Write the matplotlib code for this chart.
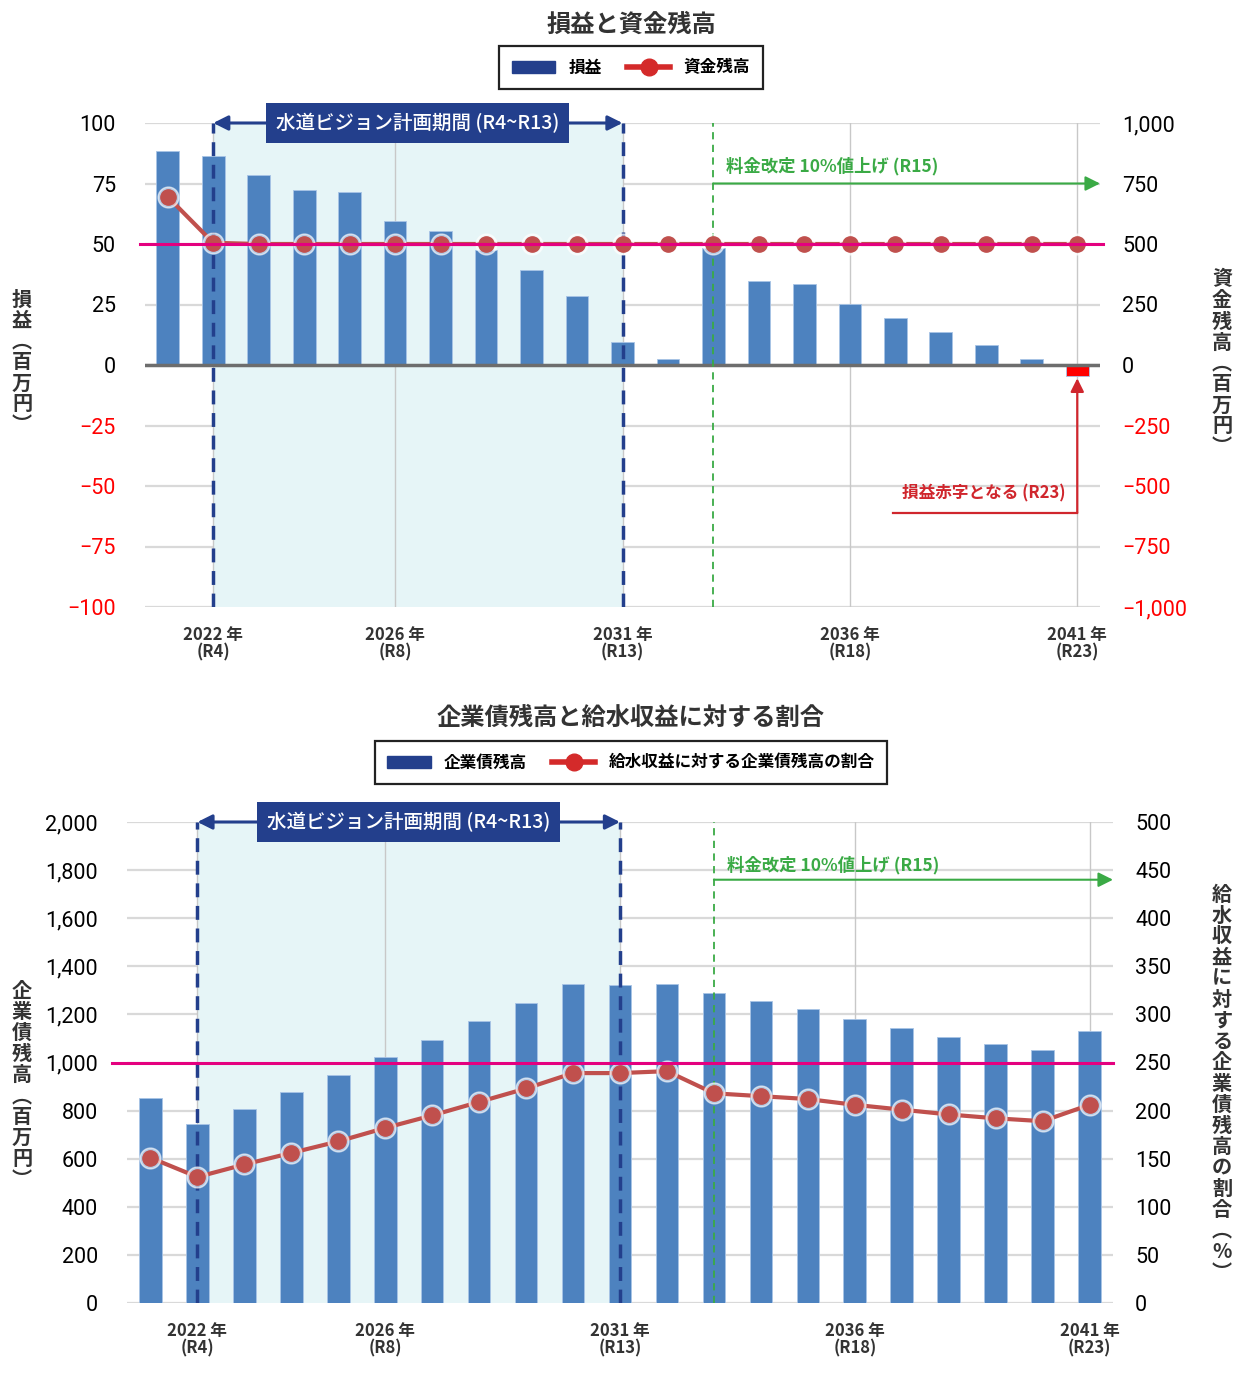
# 損益と資金残高 / 企業債残高と給水収益に対する割合
import numpy as np
import matplotlib.pyplot as plt
from matplotlib.patches import Patch
from matplotlib.lines import Line2D

plt.rcParams['font.family'] = ['Noto Sans CJK JP', 'DejaVu Sans']

#%% data
years = list(range(2021, 2042))
profit = [88.5, 86.5, 78.5, 72.4, 71.5, 59.5, 55.5, 47.4, 39.4, 28.4, 9.4,
          2.5, 48.3, 34.6, 33.5, 25.3, 19.4, 13.5, 8.4, 2.5, -4.5]
fund = [695, 505, 500, 500, 500, 500, 500, 500, 500, 500, 500,
        500, 500, 500, 500, 500, 500, 500, 500, 500, 500]
bond = [852, 744, 807, 877, 948, 1023, 1094, 1172, 1247, 1326, 1322,
        1326, 1289, 1256, 1223, 1181, 1143, 1106, 1077, 1052, 1131]
ratio = [151, 131, 144, 156, 168, 182, 195, 209, 223, 239, 239,
         241, 218, 215, 212, 206, 201, 196, 192, 189, 206]

tick_years = [2022, 2026, 2031, 2036, 2041]
tick_labels = ['2022 年\n(R4)', '2026 年\n(R8)', '2031 年\n(R13)',
               '2036 年\n(R18)', '2041 年\n(R23)']

plan_start, plan_end = 2022, 2031
rate_year = 2033

BAR = '#4d82bf'
LINE = '#c0504d'
NAVY = '#233f8c'
GREEN = '#3aaa45'
PINK = '#e4007f'
REDTXT = '#d0262d'
NUMFONT = ['Roboto', 'Noto Sans CJK JP']

fig = plt.figure(figsize=(12.44, 13.85), dpi=100)


def vlabel(x, y, s):
    s = s.replace('（', '︵').replace('）', '︶')
    fig.text(x, y, '\n'.join(s), ha='center', va='center', fontsize=14.5,
             fontweight='bold', color='#333333', linespacing=1.0)


def setup(ax, ax2, yl, yr, yticks, rticks, rfmt):
    ax.set_xlim(2020.5, 2041.5)
    ax.set_ylim(*yl)
    ax2.set_ylim(*yr)
    ax.set_yticks(yticks)
    ax.set_yticklabels([('−' + str(abs(v))) if v < 0 else str(v) for v in yticks],
                       fontsize=15.5, family=NUMFONT)
    ax2.set_yticks(rticks)
    ax2.set_yticklabels([rfmt(v) for v in rticks], fontsize=15.5, family=NUMFONT)
    for lb, v in zip(ax.get_yticklabels(), yticks):
        lb.set_color('red' if v < 0 else 'black')
    for lb, v in zip(ax2.get_yticklabels(), rticks):
        lb.set_color('red' if v < 0 else 'black')
    ax.set_xticks(tick_years)
    ax.set_xticklabels(tick_labels, fontsize=12, fontweight='bold',
                       color='#333333', linespacing=0.95)
    ax.tick_params(axis='y', length=0, pad=21)
    ax.tick_params(axis='x', length=0, pad=14)
    ax2.tick_params(length=0, pad=16)
    for a in (ax, ax2):
        for sp in a.spines.values():
            sp.set_visible(False)
    ax.set_axisbelow(True)
    for v in yticks:
        ax.axhline(v, color='#d9d9d9', lw=1.6, zorder=0)
    for t in tick_years:
        ax.axvline(t, color='#c8c8c8', lw=1, zorder=0.5)
    ax.axvspan(plan_start, plan_end, color='#e6f5f7', zorder=0.2, lw=0)
    ax2.set_zorder(ax.get_zorder() + 1)
    ax.patch.set_visible(False)


def plan_marks(ax2, ytop, lo, hi):
    for t in (plan_start, plan_end):
        ax2.plot([t, t], [lo, hi], color=NAVY, lw=2.5, ls=(0, (4, 2.5)), zorder=3)
    ax2.annotate('', xy=(plan_end, ytop), xytext=(plan_start, ytop),
                 arrowprops=dict(arrowstyle='<|-|>', color=NAVY, lw=2.2,
                                 mutation_scale=22, shrinkA=0, shrinkB=0),
                 zorder=4)
    ax2.text((plan_start + plan_end) / 2, ytop, '水道ビジョン計画期間 (R4~R13)',
             ha='center', va='center', fontsize=14, fontweight='medium',
             color='white', zorder=5,
             bbox=dict(boxstyle='square,pad=0.5', fc=NAVY, ec='none'))


def rate_marks(ax2, lo, hi, yarrow, ytext):
    ax2.plot([rate_year, rate_year], [lo, hi], color=GREEN, lw=1.3,
             ls=(0, (4, 3)), zorder=3)
    ax2.annotate('', xy=(2041.5, yarrow), xytext=(rate_year, yarrow),
                 arrowprops=dict(arrowstyle='-|>', color=GREEN, lw=1.5,
                                 mutation_scale=22, shrinkA=0, shrinkB=0),
                 annotation_clip=False, zorder=4)
    ax2.text(rate_year + 0.28, ytext, '料金改定 10%値上げ (R15)', ha='left',
             va='center', fontsize=12.5, fontweight='bold', color=GREEN, zorder=4)


def ratio_line(ax2, y):
    ax2.plot(years, y, color=LINE, lw=3, zorder=6)
    ax2.plot(years, y, 'o', ms=15, color='white', alpha=0.6, zorder=6)
    ax2.plot(years, y, 'o', ms=11, color=LINE, zorder=7)


#%% top chart
ax = fig.add_axes([145 / 1244, 1 - 607 / 1385, 955 / 1244, 484 / 1385])
ax2 = ax.twinx()
setup(ax, ax2, (-100, 100), (-1000, 1000), list(range(100, -101, -25)),
      list(range(1000, -1001, -250)),
      lambda v: ('−' + f'{abs(v):,}') if v < 0 else f'{v:,}')
ax.bar(years, profit, width=0.5, color=[BAR if p >= 0 else '#ff0000' for p in profit],
       edgecolor='#a8c4e6', linewidth=0.6, zorder=2)
ax.axhline(0, color='#6d6d6d', lw=2.5, zorder=2.5)
plan_marks(ax2, 1000, -1000, 1000)
rate_marks(ax2, -1000, 1000, 750, 820)
ratio_line(ax2, fund)
ax2.axhline(500, color=PINK, lw=2.2, zorder=8, xmin=-0.005, xmax=1.003, clip_on=False)
# 損益赤字
ax2.plot([2036.95, 2041], [-610, -610], color=REDTXT, lw=1.6, zorder=4)
ax2.annotate('', xy=(2041, -55), xytext=(2041, -611),
             arrowprops=dict(arrowstyle='-|>', color=REDTXT, lw=1.6,
                             mutation_scale=20, shrinkA=0, shrinkB=0), zorder=4)
ax2.text(2038.95, -530, '損益赤字となる (R23)', ha='center', va='center',
         fontsize=12, fontweight='bold', color=REDTXT, zorder=4)

fig.text(631 / 1244, 1 - 25 / 1385, '損益と資金残高', ha='center', va='center',
         fontsize=17.5, fontweight='bold', color='#333333')
h1 = [Patch(color=NAVY), Line2D([], [], color='#d42a2a', lw=4, marker='o', ms=12)]
leg = fig.legend(h1, ['損益', '資金残高'], loc='center', ncol=2,
                 bbox_to_anchor=(631 / 1244, 1 - 67.5 / 1385), fancybox=False,
                 edgecolor='#222222', framealpha=1, handlelength=2.6,
                 prop=dict(size=12, weight='bold'), columnspacing=1.5,
                 borderpad=0.75, handletextpad=0.8)
leg.get_frame().set_linewidth(1.6)
vlabel(22 / 1244, 1 - 362 / 1385, '損益（百万円）')
vlabel(1222 / 1244, 1 - 363 / 1385, '資金残高（百万円）')

#%% bottom chart
bx = fig.add_axes([127 / 1244, 1 - 1303 / 1385, 986 / 1244, 481 / 1385])
bx2 = bx.twinx()
setup(bx, bx2, (0, 2000), (0, 500), list(range(0, 2001, 200)),
      list(range(0, 501, 50)), lambda v: str(v))
bx.set_yticklabels([f'{v:,}' for v in range(0, 2001, 200)], fontsize=15.5, family=NUMFONT)
bx.bar(years, bond, width=0.48, color=BAR, edgecolor='#a8c4e6', linewidth=0.6, zorder=2)
plan_marks(bx2, 500, 0, 500)
rate_marks(bx2, 0, 500, 440, 455)
ratio_line(bx2, ratio)
bx2.axhline(250, color=PINK, lw=2.2, zorder=8, xmin=-0.015, xmax=1.0, clip_on=False)

fig.text(631 / 1244, 1 - 718 / 1385, '企業債残高と給水収益に対する割合', ha='center',
         va='center', fontsize=17.5, fontweight='bold', color='#333333')
h2 = [Patch(color=NAVY), Line2D([], [], color='#d42a2a', lw=4, marker='o', ms=12)]
leg2 = fig.legend(h2, ['企業債残高', '給水収益に対する企業債残高の割合'], loc='center',
                  ncol=2, bbox_to_anchor=(631 / 1244, 1 - 763 / 1385), fancybox=False,
                  edgecolor='#222222', framealpha=1, handlelength=2.6,
                  prop=dict(size=12, weight='bold'), columnspacing=1.5,
                  borderpad=0.75, handletextpad=0.8)
leg2.get_frame().set_linewidth(1.6)
vlabel(22 / 1244, 1 - 1085 / 1385, '企業債残高（百万円）')
vlabel(1222 / 1244, 1 - 1083 / 1385, '給水収益に対する企業債残高の割合（%）')

plt.savefig('out.png', dpi=100)
